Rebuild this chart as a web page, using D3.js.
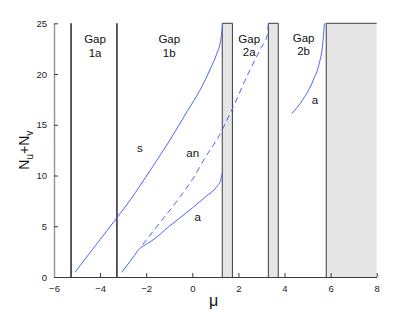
<!DOCTYPE html>
<html>
<head>
<meta charset="utf-8">
<script src="https://cdn.jsdelivr.net/npm/d3@7"></script>
<style>
  body { margin: 0; background: #fff; }
  text { font-family: "Liberation Sans", Arial, sans-serif; }
</style>
</head>
<body>
<svg id="chart" width="415" height="312"></svg>
<script>
// values
const xTicks = [-6, -4, -2, 0, 2, 4, 6, 8];
const yTicks = [0, 5, 10, 15, 20, 25];

const gapLines = [-5.26, -3.27];
const gapBands = [[1.30, 1.74], [3.30, 3.73], [5.81, 8]];

const sMu = [-5.09, -4.2, -3.27, -2.69, -1.8, -0.97, -0.2, 0.33, 0.8, 1.06, 1.25, 1.32];
const sN  = [0.46, 3.1, 5.84, 7.6, 10.6, 13.5, 16.4, 18.4, 20.6, 22.0, 23.6, 25];

const aMu = [-3.06, -2.6, -2.27, -2.1, -1.8, -1.0, 0.0, 0.6, 1.06, 1.23, 1.29];
const aN  = [0.46, 1.84, 2.83, 3.1, 3.5, 5.0, 6.8, 7.95, 8.9, 9.55, 10.2];

const anMu = [-2.15, -1.4, -0.53, 0.0, 0.62, 1.06, 1.71, 2.5, 3.0, 3.25, 3.3];
const anN  = [3.2, 5.37, 7.9, 9.6, 12.0, 13.5, 16.45, 20.4, 22.65, 23.8, 25];

const a2Mu = [4.31, 4.8, 5.25, 5.5, 5.65, 5.73];
const a2N  = [16.1, 17.5, 19.4, 21.0, 22.8, 25];

const gapNames = ["1a", "1b", "2a", "2b"];
const gapNameMu = [-4.22, -1.0, 2.47, 4.83];
const gapNameN = [23.45, 23.45, 23.5, 23.6];

const curveNames = ["s", "an", "a", "a"];
const curveNameMu = [-2.27, 0.02, 0.23, 5.32];
const curveNameN = [12.68, 12.2, 5.94, 17.4];

const plotLeft = 54, plotRight = 376.7, plotTop = 23.3, plotBottom = 277;
const blue = "#4d64ff";
const dark = "#3c3c3c";

const svg = d3.select("#chart");

const x = d3.scaleLinear().domain([-6, 8]).range([plotLeft, plotRight]);
const y = d3.scaleLinear().domain([0, 25]).range([plotBottom, plotTop]);

// grey bands
gapBands.forEach(b => {
  svg.append("rect")
    .attr("x", x(b[0])).attr("y", y(25))
    .attr("width", x(b[1]) - x(b[0])).attr("height", y(0) - y(25))
    .attr("fill", "#e5e5e5");
  const edge = b[1] >= 8
    ? `M${x(b[0])},${y(0)}V${y(25)}H${x(b[1])}`
    : `M${x(b[0])},${y(0)}V${y(25)}H${x(b[1])}V${y(0)}`;
  svg.append("path").attr("d", edge)
    .attr("fill", "none").attr("stroke", dark).attr("stroke-width", 1);
});

// gap boundary lines
svg.selectAll(".gapline").data(gapLines).join("line")
  .attr("x1", d => x(d)).attr("x2", d => x(d))
  .attr("y1", y(0)).attr("y2", y(25))
  .attr("stroke", "#333").attr("stroke-width", 1.6);

// axes, ticks pointing inward
const xAxis = svg.append("g")
  .attr("transform", `translate(0,${plotBottom})`)
  .call(d3.axisBottom(x).tickValues(xTicks).tickSizeInner(-4).tickSizeOuter(0).tickPadding(8));
const yAxis = svg.append("g")
  .attr("transform", `translate(${plotLeft},0)`)
  .call(d3.axisLeft(y).tickValues(yTicks).tickSizeInner(-4).tickSizeOuter(0).tickPadding(7));

xAxis.select(".domain").attr("stroke", dark);
yAxis.select(".domain").attr("stroke", "#999").attr("stroke-width", 1.5);
[xAxis, yAxis].forEach(a => {
  a.selectAll(".tick line").attr("stroke", dark);
  a.selectAll("text").attr("font-size", 9.5).attr("fill", "#222")
    .style("font-family", "Liberation Sans, Arial, sans-serif");
});

// curves
const line = d3.line().x(d => x(d[0])).y(d => y(d[1])).curve(d3.curveMonotoneX);
const curve = (mu, n) => mu.map((m, i) => [m, n[i]]);

svg.append("path").attr("d", line(curve(sMu, sN)))
  .attr("fill", "none").attr("stroke", blue).attr("stroke-width", 1);
svg.append("path").attr("d", line(curve(aMu, aN)))
  .attr("fill", "none").attr("stroke", blue).attr("stroke-width", 1);
svg.append("path").attr("d", line(curve(anMu, anN)))
  .attr("fill", "none").attr("stroke", blue).attr("stroke-width", 1)
  .attr("stroke-dasharray", "6,4");
svg.append("path").attr("d", line(curve(a2Mu, a2N)))
  .attr("fill", "none").attr("stroke", blue).attr("stroke-width", 1);

// gap labels
gapNames.forEach((g, i) => {
  const t = svg.append("text")
    .attr("x", x(gapNameMu[i])).attr("y", y(gapNameN[i]))
    .attr("text-anchor", "middle").attr("font-size", 11.5).attr("fill", "#111");
  t.append("tspan").attr("x", x(gapNameMu[i])).attr("dy", "0.35em").text("Gap");
  t.append("tspan").attr("x", x(gapNameMu[i])).attr("dy", "1.17em").text(g);
});

// curve labels
curveNames.forEach((c, i) => {
  svg.append("text")
    .attr("x", x(curveNameMu[i])).attr("y", y(curveNameN[i]))
    .attr("dy", "0.35em").attr("text-anchor", "middle")
    .attr("font-size", 11.5).attr("fill", "#111").text(c);
});

// axis titles
svg.append("text")
  .attr("x", x(0.92)).attr("y", 306)
  .attr("text-anchor", "middle").attr("font-size", 16).attr("fill", "#111")
  .text("μ");

const yl = svg.append("text")
  .attr("transform", `translate(29,${(plotTop + plotBottom) / 2}) rotate(-90)`)
  .attr("text-anchor", "middle").attr("font-size", 14).attr("fill", "#111");
yl.append("tspan").text("N");
yl.append("tspan").attr("font-size", 10).attr("dy", 4).text("u");
yl.append("tspan").attr("dy", -4).text("+N");
yl.append("tspan").attr("font-size", 10).attr("dy", 4).text("v");
</script>
</body>
</html>
